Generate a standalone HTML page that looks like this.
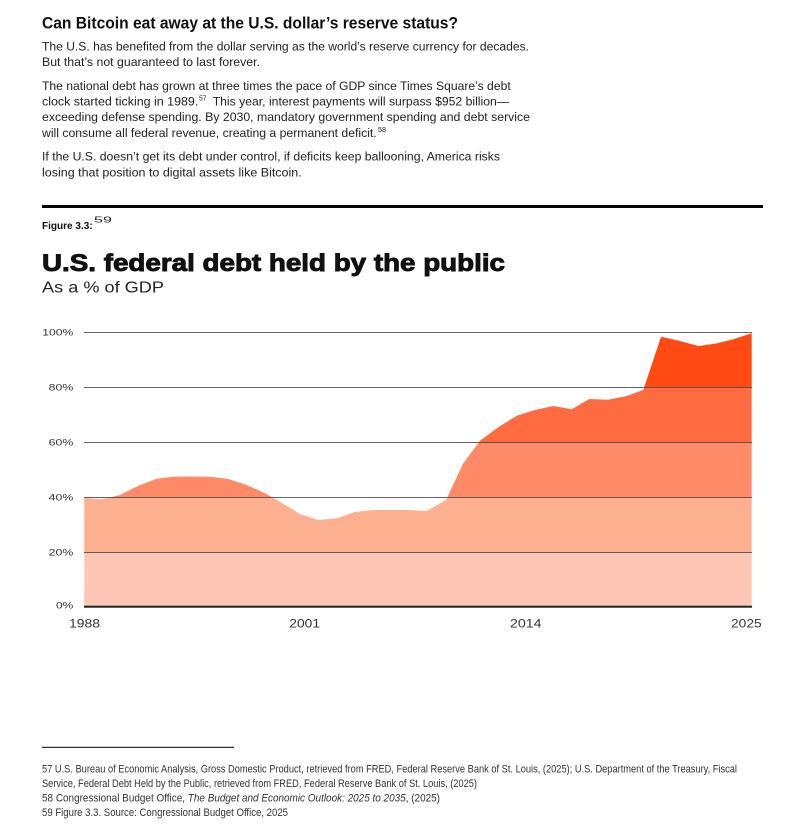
<!DOCTYPE html>
<html>
<head>
<meta charset="utf-8">
<style>
  html, body { margin:0; padding:0; background:#fff; }
  body { width:803px; height:831px; overflow:hidden; }
  svg { display:block; }
  text { font-family: "Liberation Sans", "DejaVu Sans", sans-serif; }
</style>
</head>
<body>
<svg width="803" height="831" viewBox="0 0 803 831" xmlns="http://www.w3.org/2000/svg">
  <rect x="0" y="0" width="803" height="831" fill="#ffffff"/>

  <!-- Header -->
  <text x="42" y="28.3" font-size="16.5" font-weight="bold" fill="#111" textLength="416" lengthAdjust="spacingAndGlyphs">Can Bitcoin eat away at the U.S. dollar’s reserve status?</text>

  <g font-size="12.4" fill="#222">
    <text x="42" y="50.5" textLength="487" lengthAdjust="spacingAndGlyphs">The U.S. has benefited from the dollar serving as the world’s reserve currency for decades.</text>
    <text x="42" y="65.8" textLength="218" lengthAdjust="spacingAndGlyphs">But that’s not guaranteed to last forever.</text>

    <text x="42" y="89.8" textLength="468.7" lengthAdjust="spacingAndGlyphs">The national debt has grown at three times the pace of GDP since Times Square’s debt</text>
    <text x="42" y="105.5" textLength="156.3" lengthAdjust="spacingAndGlyphs">clock started ticking in 1989.</text>
    <text x="199" y="100.5" font-size="7" textLength="7.5" lengthAdjust="spacingAndGlyphs">57</text>
    <text x="212.7" y="105.5" textLength="296.3" lengthAdjust="spacingAndGlyphs">This year, interest payments will surpass $952 billion—</text>
    <text x="42" y="121.2" textLength="488" lengthAdjust="spacingAndGlyphs">exceeding defense spending. By 2030, mandatory government spending and debt service</text>
    <text x="42" y="136.9" textLength="334.7" lengthAdjust="spacingAndGlyphs">will consume all federal revenue, creating a permanent deficit.</text>
    <text x="378" y="131.8" font-size="7" textLength="8" lengthAdjust="spacingAndGlyphs">58</text>

    <text x="42" y="160.5" textLength="458" lengthAdjust="spacingAndGlyphs">If the U.S. doesn’t get its debt under control, if deficits keep ballooning, America risks</text>
    <text x="42" y="176.3" textLength="259.7" lengthAdjust="spacingAndGlyphs">losing that position to digital assets like Bitcoin.</text>
  </g>

  <!-- Top rule -->
  <rect x="42" y="205" width="721" height="3" fill="#000"/>

  <!-- Figure label -->
  <text x="42" y="229" font-size="10.5" font-weight="bold" fill="#111" textLength="50.7" lengthAdjust="spacingAndGlyphs">Figure 3.3:</text>
  <text x="94" y="222.5" font-size="8.5" fill="#222" textLength="18" lengthAdjust="spacingAndGlyphs">59</text>

  <!-- Chart title -->
  <text x="42" y="271" font-size="24" font-weight="bold" fill="#111" stroke="#111" stroke-width="0.9" textLength="463" lengthAdjust="spacingAndGlyphs">U.S. federal debt held by the public</text>
  <text x="42" y="292.3" font-size="16" fill="#222" textLength="122" lengthAdjust="spacingAndGlyphs">As a % of GDP</text>

  <!-- Chart area -->
  <defs>
    <clipPath id="area">
      <polygon points="84.3,606 84.3,497.7 101.7,499.3 120,495 138.3,485.7 156.7,478.7 173.3,476.7 192,476.5 210,476.7 228.3,479 246.7,485 265,493.3 281.7,502.7 300,514 318.3,520 336.7,518.3 355,512 373.3,510 391,510 408.3,510 426.7,511 446,500 463.3,463.3 480,440.7 498.3,427.3 516.7,415.7 535,410 553.3,406 571.7,409.3 589.3,399 608.3,399.7 626.7,396 643.3,390 661,336.7 680,341 698.3,346 715,343.7 733.3,339.3 751.7,333.3 751.7,606"/>
    </clipPath>
  </defs>
  <g clip-path="url(#area)">
    <rect x="84" y="330" width="668" height="57.5" fill="#FF4A14"/>
    <rect x="84" y="387.5" width="668" height="55" fill="#FF6B40"/>
    <rect x="84" y="442.5" width="668" height="55" fill="#FE8A67"/>
    <rect x="84" y="497.5" width="668" height="55" fill="#FCB090"/>
    <rect x="84" y="552.5" width="668" height="55" fill="#FDC6B5"/>
  </g>

  <!-- Gridlines -->
  <g stroke="#4a4a4a" stroke-width="1" opacity="0.85">
    <line x1="84" y1="332.5" x2="752" y2="332.5"/>
    <line x1="84" y1="387.5" x2="752" y2="387.5"/>
    <line x1="84" y1="442.5" x2="752" y2="442.5"/>
    <line x1="84" y1="497.5" x2="752" y2="497.5"/>
    <line x1="84" y1="552.5" x2="752" y2="552.5"/>
  </g>
  <rect x="84" y="605.7" width="668" height="2" fill="#222"/>

  <!-- Y labels -->
  <g font-size="9.5" fill="#333" text-anchor="end">
    <text x="73.3" y="335.6" textLength="31" lengthAdjust="spacingAndGlyphs">100%</text>
    <text x="73.3" y="390.6" textLength="24.6" lengthAdjust="spacingAndGlyphs">80%</text>
    <text x="73.3" y="445.6" textLength="24.6" lengthAdjust="spacingAndGlyphs">60%</text>
    <text x="73.3" y="500.4" textLength="24.6" lengthAdjust="spacingAndGlyphs">40%</text>
    <text x="73.3" y="555.6" textLength="24.6" lengthAdjust="spacingAndGlyphs">20%</text>
    <text x="73.3" y="608.3" textLength="17.3" lengthAdjust="spacingAndGlyphs">0%</text>
  </g>

  <!-- X labels -->
  <g font-size="12.3" fill="#333">
    <text x="69" y="627.3" textLength="31" lengthAdjust="spacingAndGlyphs">1988</text>
    <text x="289.3" y="627.3" textLength="30.7" lengthAdjust="spacingAndGlyphs">2001</text>
    <text x="510" y="627.3" textLength="31.5" lengthAdjust="spacingAndGlyphs">2014</text>
    <text x="731" y="627.3" textLength="30.7" lengthAdjust="spacingAndGlyphs">2025</text>
  </g>

  <!-- Footnotes -->
  <rect x="42" y="746.8" width="192" height="1" fill="#000"/>
  <g font-size="11" fill="#333">
    <text x="42" y="772.3" textLength="695" lengthAdjust="spacingAndGlyphs">57 U.S. Bureau of Economic Analysis, Gross Domestic Product, retrieved from FRED, Federal Reserve Bank of St. Louis, (2025); U.S. Department of the Treasury, Fiscal</text>
    <text x="42" y="786.8" textLength="435" lengthAdjust="spacingAndGlyphs">Service, Federal Debt Held by the Public, retrieved from FRED, Federal Reserve Bank of St. Louis, (2025)</text>
    <text x="42" y="801.4" textLength="398" lengthAdjust="spacingAndGlyphs">58 Congressional Budget Office, <tspan font-style="italic">The Budget and Economic Outlook: 2025 to 2035</tspan>, (2025)</text>
    <text x="42" y="816" textLength="246" lengthAdjust="spacingAndGlyphs">59 Figure 3.3. Source: Congressional Budget Office, 2025</text>
  </g>
</svg>
</body>
</html>
